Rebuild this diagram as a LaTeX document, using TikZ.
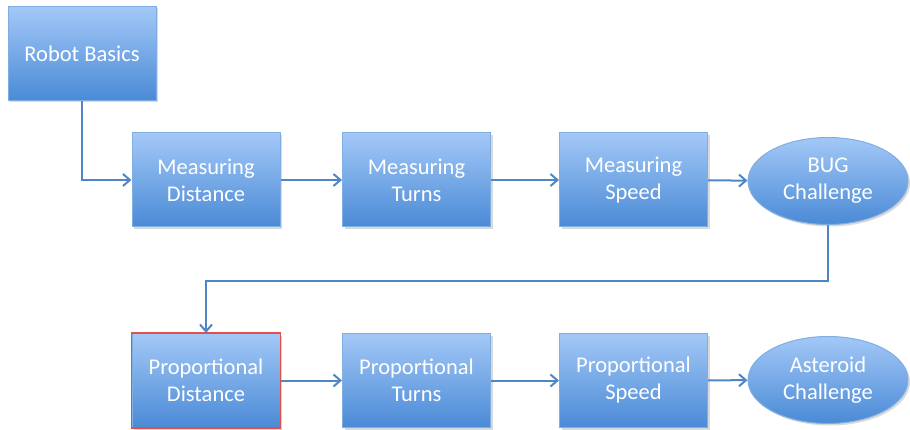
\documentclass[tikz,border=0pt]{standalone}
\usepackage{fontspec}
\setmainfont{Carlito}
\usetikzlibrary{arrows.meta,shapes.geometric,shadows}
\definecolor{boxtop}{HTML}{A3C8F7}
\definecolor{boxbot}{HTML}{4A8AD6}
\definecolor{boxline}{HTML}{7FAEE2}
\definecolor{conn}{HTML}{4F86C6}
\definecolor{redline}{HTML}{E0504A}
\tikzset{
  stepbox/.style={draw=boxline, line width=1pt, top color=boxtop, bottom color=boxbot,
    minimum width=148pt, minimum height=94pt, align=center, text=white,
    font=\fontsize{22.5}{27}\selectfont, drop shadow={opacity=0.3, shadow xshift=2pt, shadow yshift=-2pt}},
  goal/.style={stepbox, ellipse, minimum width=160pt, minimum height=87pt, inner sep=0pt},
  link/.style={draw=conn, line width=2pt, -{Straight Barb[length=7pt,width=12pt,line width=2pt]}},
  redframe/.style={draw=redline, line width=1.8pt}
}
\begin{document}
\begin{tikzpicture}[x=1pt,y=-1pt]
\useasboundingbox (0,0) rectangle (910,430);
\node[stepbox] (rb) at (82,53.5) {Robot Basics};
\node[stepbox] (md) at (206,180) {Measuring\\Distance};
\node[stepbox] (mt) at (416.5,180) {Measuring\\Turns};
\node[stepbox] (ms) at (633.5,180) {Measuring\\Speed};
\node[goal] (bug) at (828,181) {BUG\\Challenge};
\node[stepbox] (pd) at (206,380.5) {Proportional\\Distance};
\draw[redframe] (pd.north west) rectangle (pd.south east);
\node[stepbox] (pt) at (416.5,380.5) {Proportional\\Turns};
\node[stepbox] (ps) at (633.5,380.5) {Proportional\\Speed};
\node[goal] (ast) at (828,380) {Asteroid\\Challenge};
\coordinate (c1) at (828,281);
\coordinate (c2) at (206,281);
\draw[link] (rb.south) |- (md.west);
\draw[link] (md) -- (mt);
\draw[link] (mt) -- (ms);
\draw[link] (ms) -- (bug);
\draw[link] (bug.south) -- (c1) -- (c2) -- (pd.north);
\draw[link] (pd) -- (pt);
\draw[link] (pt) -- (ps);
\draw[link] (ps) -- (ast);
\end{tikzpicture}
\end{document}
